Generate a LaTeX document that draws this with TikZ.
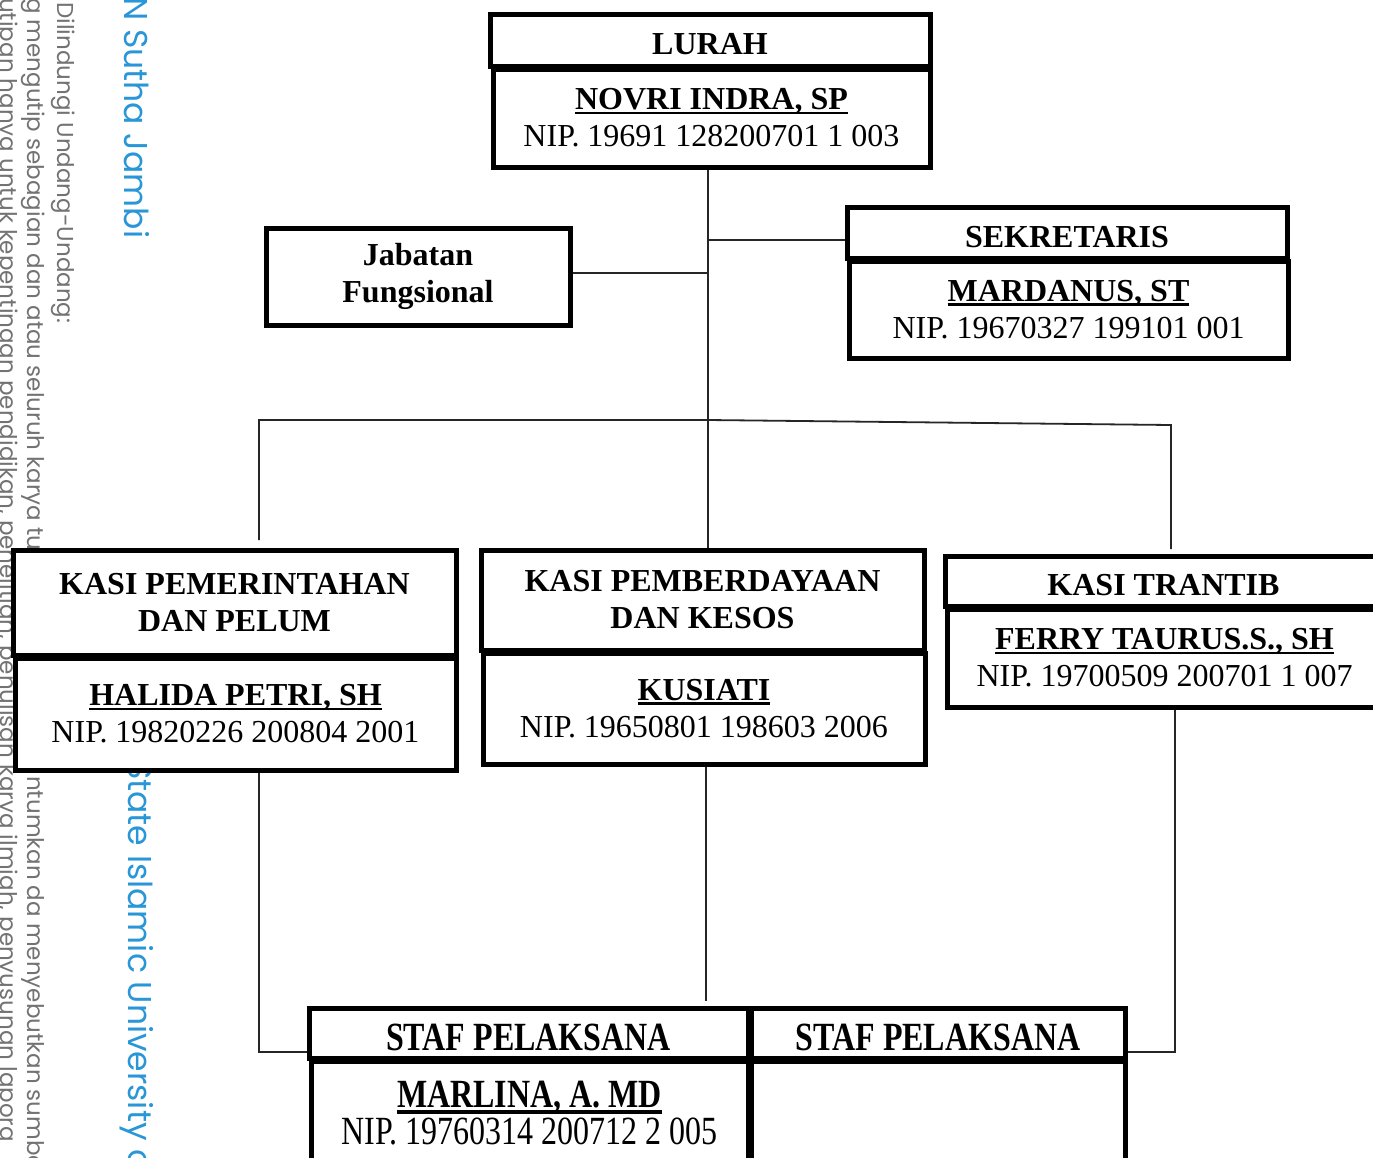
\documentclass[tikz,border=0pt]{standalone}
\usepackage{fontspec}
\setmainfont{Liberation Serif}
\newfontfamily\wmfont{Poppins}
\definecolor{wmgray}{RGB}{115,115,115}
\definecolor{wmblue}{RGB}{40,150,215}
\newcommand{\nameul}[1]{\setbox0\hbox{\bfseries #1}\rlap{\rule[-4.5pt]{\wd0}{2.6pt}}\box0}
\newcommand{\hdtxt}[1]{\raisebox{-4.5pt}[\height][\depth]{#1}}
\begin{document}
\begin{tikzpicture}[x=1pt,y=-1pt,
  box/.style={draw, line width=5pt, fill=white, inner sep=0pt, align=center, font=\fontsize{32}{37}\selectfont},
  hbox/.style={box, font=\bfseries\fontsize{32}{37}\selectfont},
  conn/.style={line width=1.8pt, draw=black!85},
  wm/.style={rotate=-90, anchor=west, inner sep=0pt, text=wmgray, font=\wmfont\fontsize{23}{23}\selectfont},
  wmb/.style={wm, text=wmblue, font=\wmfont\fontsize{33}{33}\selectfont}]
\useasboundingbox (0,0) rectangle (1373,1157);
\clip (0,0) rectangle (1373,1157);
\fill[white] (0,0) rectangle (1373,1157);
% watermark
\node[wm] (wmA) at (63,2) {Dilindungi Undang-Undang:};
\node[wm] (wmB1) at (33,-2) {g mengutip sebagian dan atau seluruh karya tu};
\node[wm] (wmB2) at (33,776) {ntumkan da menyebutkan sumbe};
\node[wm] (wmC) at (6,-2) {utipan hanya untuk kepentingan pendidikan, penelitian, penulisan karya ilmiah, penyusunan lapora};
\node[wmb] (wmD1) at (137,-3) {N Sutha Jambi};
\node[wmb] (wmD2) at (137,760) {State Islamic University o};
% boxes
\node[hbox, minimum width=440pt, minimum height=52pt] (lurahT) at (710,40) {\hdtxt{LURAH}};
\node[box, minimum width=437pt, minimum height=98pt] (lurahB) at (711.5,118) {\nameul{NOVRI INDRA, SP}\\NIP. 19691 128200701 1 003};
\node[hbox, minimum width=304pt, minimum height=97pt] (jab) at (418,276.5) {Jabatan\\Fungsional};
\node[hbox, minimum width=440pt, minimum height=51pt] (sekT) at (1067,232.5) {\hdtxt{SEKRETARIS}};
\node[box, minimum width=439pt, minimum height=97pt] (sekB) at (1068.5,309.5) {\nameul{MARDANUS, ST}\\NIP. 19670327 199101 001};
\node[hbox, minimum width=443pt, minimum height=105pt] (pemT) at (234.5,602.5) {KASI PEMERINTAHAN\\DAN PELUM};
\node[box, minimum width=441pt, minimum height=112pt] (pemB) at (235.5,714) {\nameul{HALIDA PETRI, SH}\\NIP. 19820226 200804 2001};
\node[hbox, minimum width=443pt, minimum height=100pt] (berT) at (702.5,600) {KASI PEMBERDAYAAN\\DAN KESOS};
\node[box, minimum width=442pt, minimum height=111pt] (berB) at (704,708.5) {\nameul{KUSIATI}\\NIP. 19650801 198603 2006};
\node[hbox, minimum width=437pt, minimum height=50pt] (traT) at (1163.5,581) {\hdtxt{KASI TRANTIB}};
\node[box, minimum width=435pt, minimum height=98pt] (traB) at (1164.5,658) {\nameul{FERRY TAURUS.S., SH}\\NIP. 19700509 200701 1 007};
\node[hbox, minimum width=439pt, minimum height=50pt] (stafLT) at (528.5,1033) {\hdtxt{\scalebox{1}[1.25]{STAF PELAKSANA}}};
\node[box, minimum width=437pt, minimum height=105pt] (stafLB) at (529.5,1113.5) {\scalebox{1}[1.25]{\nameul{MARLINA, A. MD}}\\\scalebox{1}[1.25]{NIP. 19760314 200712 2 005}};
\node[hbox, minimum width=374pt, minimum height=50pt] (stafRT) at (938,1033) {\hdtxt{\scalebox{1}[1.25]{STAF PELAKSANA}}};
\node[box, minimum width=374pt, minimum height=105pt] (stafRB) at (938,1113.5) {};
% connectors
\coordinate (tx) at (708,0);
\coordinate (jS) at (708,240);
\coordinate (jJ) at (708,273);
\coordinate (jM) at (708,420);
\coordinate (jL) at (259,420);
\coordinate (jLe) at (259,540);
\coordinate (jR) at (1171,425);
\coordinate (jRe) at (1171,549);
\coordinate (jP) at (259,1052);
\coordinate (jK) at (706,1001);
\coordinate (jT) at (1175,1052);
\draw[conn] (lurahB.south -| tx) -- (berT.north -| tx);
\draw[conn] (jS) -- (jS -| sekT.west);
\draw[conn] (jJ -| jab.east) -- (jJ);
\draw[conn] (jLe) -- (jL) -- (jM) -- (jR) -- (jRe);
\draw[conn] (pemB.south -| jP) -- (jP) -- (jP -| stafLT.west);
\draw[conn] (berB.south -| jK) -- (jK);
\draw[conn] (traB.south -| jT) -- (jT) -- (jT -| stafRT.east);
\end{tikzpicture}
\end{document}
